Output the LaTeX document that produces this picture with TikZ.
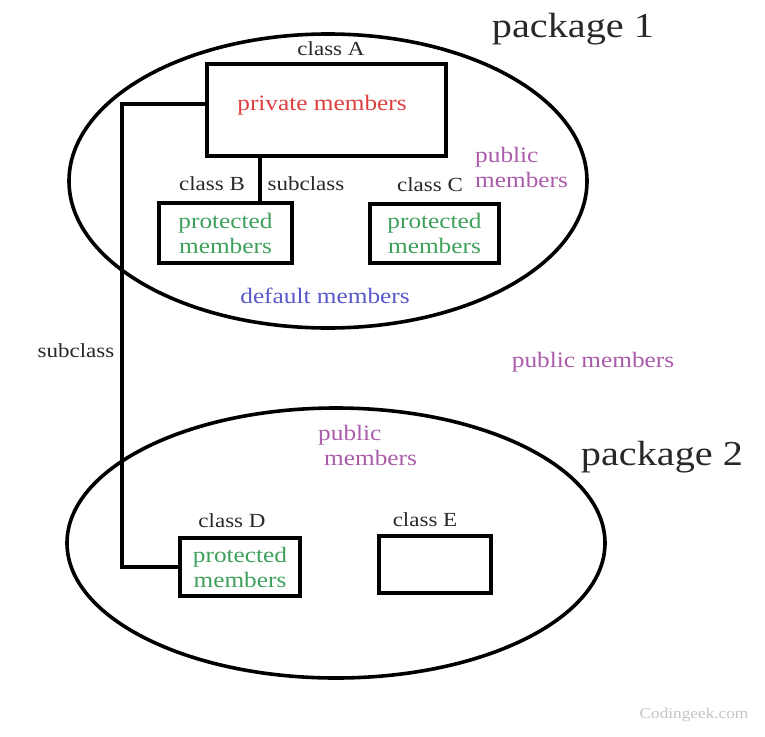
\documentclass[tikz,border=0pt]{standalone}
\usepackage{fontspec}
\setmainfont{Liberation Serif}[FakeStretch=1.15]
\usetikzlibrary{shapes.geometric}
\definecolor{inkgray}{RGB}{40,40,40}
\definecolor{privred}{RGB}{222,62,62}
\definecolor{protgreen}{RGB}{62,160,92}
\definecolor{defblue}{RGB}{88,88,200}
\definecolor{pubpurple}{RGB}{170,92,170}
\definecolor{markgray}{RGB}{195,195,195}
\tikzset{
  pkg/.style={draw=black, ellipse, line width=3.6pt, inner sep=0pt},
  cls/.style={draw=black, rectangle, line width=3.6pt, inner sep=0pt},
  conn/.style={draw=black, line width=3.6pt},
  lbl/.style={text=inkgray, font=\fontsize{20}{23}\selectfont, inner sep=0pt},
  mem/.style={font=\fontsize{22}{25}\selectfont, align=center, inner sep=0pt},
  big/.style={text=inkgray, font=\fontsize{35}{40}\selectfont, inner sep=0pt}
}
\begin{document}
\begin{tikzpicture}[x=1pt, y=-1pt]
\useasboundingbox (0,0) rectangle (765,736);
% packages
\node[pkg, minimum width=518pt, minimum height=294pt] (P1) at (328,181) {};
\node[pkg, minimum width=538pt, minimum height=270pt] (P2) at (336,543) {};
\node[big, anchor=base] (t1) at (573,37) {package 1};
\node[big, anchor=base] (t2) at (662,465) {package 2};
% classes
\node[cls, minimum width=239pt, minimum height=92pt] (A) at (326.5,110) {};
\node[mem, text=privred, anchor=base] (pA) at (322,110) {private members};
\node[cls, minimum width=133pt, minimum height=60pt, mem, text=protgreen] (B) at (225.5,233) {protected\\members};
\node[cls, minimum width=129pt, minimum height=59pt, mem, text=protgreen] (C) at (434.5,233.5) {protected\\members};
\node[cls, minimum width=120pt, minimum height=58pt, mem, text=protgreen] (D) at (240,567) {protected\\members};
\node[cls, minimum width=112pt, minimum height=57pt] (E) at (435,564.5) {};
% class labels
\node[lbl, anchor=base] (lA) at (331,55) {class A};
\node[lbl, anchor=base] (lB) at (212,190) {class B};
\node[lbl, anchor=base] (lC) at (430,191) {class C};
\node[lbl, anchor=base] (lD) at (232,527) {class D};
\node[lbl, anchor=base] (lE) at (425,526) {class E};
\node[lbl, anchor=base] (s1) at (306,190) {subclass};
\node[lbl, anchor=base] (s2) at (76,357) {subclass};
% member visibility labels
\node[mem, text=defblue, anchor=base] (dm) at (325,303) {default members};
\node[mem, text=pubpurple, align=left, anchor=base west] (pm1) at (475,187) {public\\members};
\node[mem, text=pubpurple, anchor=base] (pm0) at (593,367) {public members};
\node[mem, text=pubpurple, align=left, anchor=base west] (pm2) at (318,465) {public\\\hspace*{6pt}members};
\node[text=markgray, font=\fontsize{15}{17}\selectfont, anchor=base, inner sep=0pt] (wm) at (694,718) {Codingeek.com};
% connectors
\coordinate (k1) at (122,104);
\coordinate (k3) at (260,0);
\draw[conn] (A.west |- k1) -- (k1) |- (D.west);
\draw[conn] (A.south -| k3) -- (B.north -| k3);
\end{tikzpicture}
\end{document}
